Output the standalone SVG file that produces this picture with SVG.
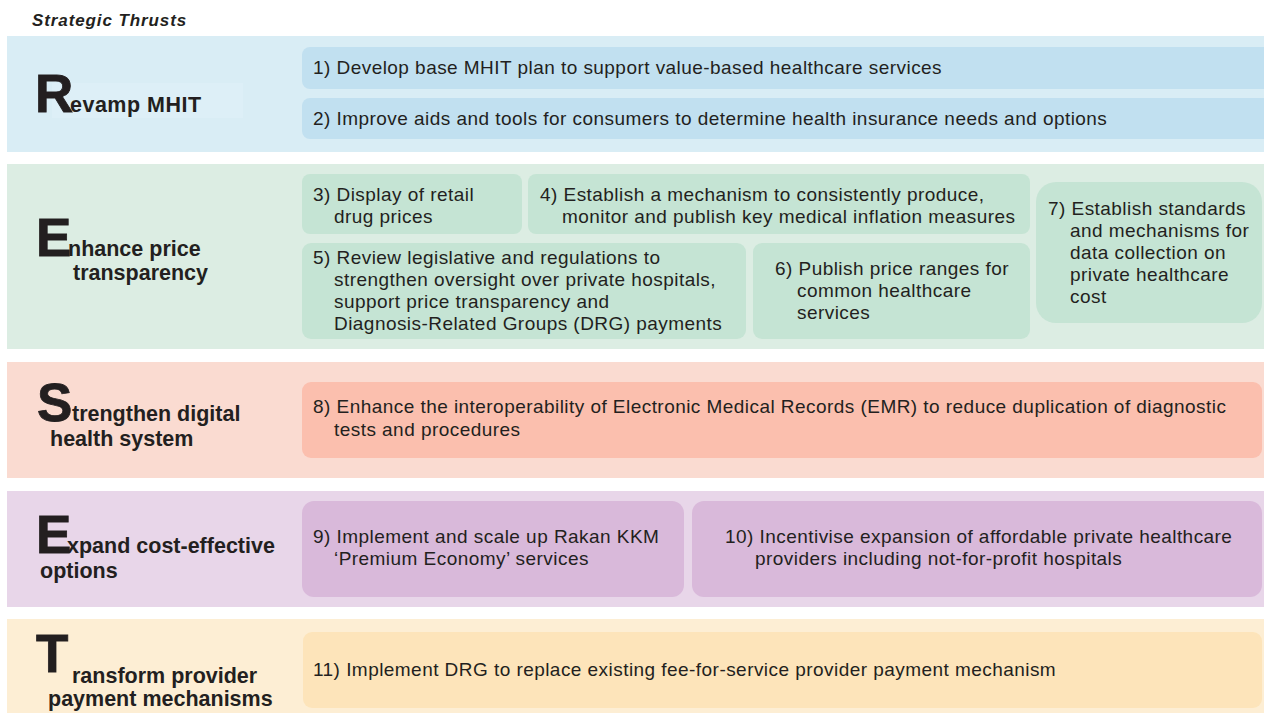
<svg xmlns="http://www.w3.org/2000/svg" width="1264" height="713" viewBox="0 0 1264 713">
<style>
text{font-family:"Liberation Sans",Arial,sans-serif;fill:#231f20}
.t{font-size:19px;letter-spacing:0.45px}
.big{font-size:53px;font-weight:bold;stroke:#231f20;stroke-width:0.8px}
.lab{font-size:21.5px;font-weight:bold}
.hd{font-size:17px;font-weight:bold;font-style:italic;letter-spacing:0.9px}
.b1{fill:#d9edf5}.i1{fill:#c1e0f0}
.b2{fill:#dcede3}.i2{fill:#c5e4d4}
.b3{fill:#fadbd1}.i3{fill:#fbbfae}
.b4{fill:#e8d6e9}.i4{fill:#d9b9da}
.b5{fill:#fdeed4}.i5{fill:#fde4ba}
</style>
<text class="hd" x="32" y="26">Strategic Thrusts</text>

<g id="band-revamp">
<rect class="b1" x="7" y="36" width="1257" height="116"/>
<rect x="52" y="83" width="191" height="35" fill="#ddeff7"/>
<text class="big" x="35" y="112">R</text>
<text class="lab" x="70" y="112" letter-spacing="0.5">evamp MHIT</text>
</g>
<g id="node-1">
<rect class="i1" x="302" y="47" width="975" height="42" rx="8"/>
<text class="t" x="313" y="74">1) Develop base MHIT plan to support value-based healthcare services</text>
</g>
<g id="node-2">
<rect class="i1" x="302" y="98" width="975" height="41" rx="8"/>
<text class="t" x="313" y="125">2) Improve aids and tools for consumers to determine health insurance needs and options</text>
</g>

<g id="band-enhance">
<rect class="b2" x="7" y="164" width="1257" height="185"/>
<text class="big" x="36" y="256">E</text>
<text class="lab" x="68" y="256">nhance price</text>
<text class="lab" x="73" y="280">transparency</text>
</g>
<g id="node-3">
<rect class="i2" x="302" y="174" width="220" height="60" rx="8"/>
<text class="t" x="313" y="201">3) Display of retail</text>
<text class="t" x="334" y="223">drug prices</text>
</g>
<g id="node-4">
<rect class="i2" x="528" y="174" width="502" height="60" rx="8"/>
<text class="t" x="540" y="201">4) Establish a mechanism to consistently produce,</text>
<text class="t" x="562" y="223">monitor and publish key medical inflation measures</text>
</g>
<g id="node-5">
<rect class="i2" x="302" y="243" width="444" height="96" rx="9"/>
<text class="t" x="313" y="264">5) Review legislative and regulations to</text>
<text class="t" x="334" y="286">strengthen oversight over private hospitals,</text>
<text class="t" x="334" y="308">support price transparency and</text>
<text class="t" x="334" y="330">Diagnosis-Related Groups (DRG) payments</text>
</g>
<g id="node-6">
<rect class="i2" x="753" y="243" width="277" height="96" rx="9"/>
<text class="t" x="775" y="275">6) Publish price ranges for</text>
<text class="t" x="797" y="297">common healthcare</text>
<text class="t" x="797" y="319">services</text>
</g>
<g id="node-7">
<rect class="i2" x="1036" y="182" width="226" height="141" rx="20"/>
<text class="t" x="1048" y="215">7) Establish standards</text>
<text class="t" x="1070" y="237">and mechanisms for</text>
<text class="t" x="1070" y="259">data collection on</text>
<text class="t" x="1070" y="281">private healthcare</text>
<text class="t" x="1070" y="303">cost</text>
</g>

<g id="band-strengthen">
<rect class="b3" x="7" y="362" width="1257" height="116"/>
<text class="big" x="37" y="421">S</text>
<text class="lab" x="72" y="421">trengthen digital</text>
<text class="lab" x="50" y="446">health system</text>
</g>
<g id="node-8">
<rect class="i3" x="302" y="382" width="960" height="76" rx="9"/>
<text class="t" x="313" y="413">8) Enhance the interoperability of Electronic Medical Records (EMR) to reduce duplication of diagnostic</text>
<text class="t" x="334" y="436">tests and procedures</text>
</g>

<g id="band-expand">
<rect class="b4" x="7" y="491" width="1257" height="116"/>
<text class="big" x="36" y="553">E</text>
<text class="lab" x="67" y="553">xpand cost-effective</text>
<text class="lab" x="40" y="578">options</text>
</g>
<g id="node-9">
<rect class="i4" x="302" y="501" width="382" height="96" rx="12"/>
<text class="t" x="313" y="543">9) Implement and scale up Rakan KKM</text>
<text class="t" x="334" y="565">‘Premium Economy’ services</text>
</g>
<g id="node-10">
<rect class="i4" x="692" y="501" width="570" height="96" rx="12"/>
<text class="t" x="725" y="543">10) Incentivise expansion of affordable private healthcare</text>
<text class="t" x="755" y="565">providers including not-for-profit hospitals</text>
</g>

<g id="band-transform">
<rect class="b5" x="7" y="619" width="1257" height="94"/>
<text class="big" x="36" y="672">T</text>
<text class="lab" x="72" y="683">ransform provider</text>
<text class="lab" x="48" y="706">payment mechanisms</text>
</g>
<g id="node-11">
<rect class="i5" x="303" y="632" width="959" height="76" rx="9"/>
<text class="t" x="313" y="676">11) Implement DRG to replace existing fee-for-service provider payment mechanism</text>
</g>
<g id="connectors"/>
</svg>
